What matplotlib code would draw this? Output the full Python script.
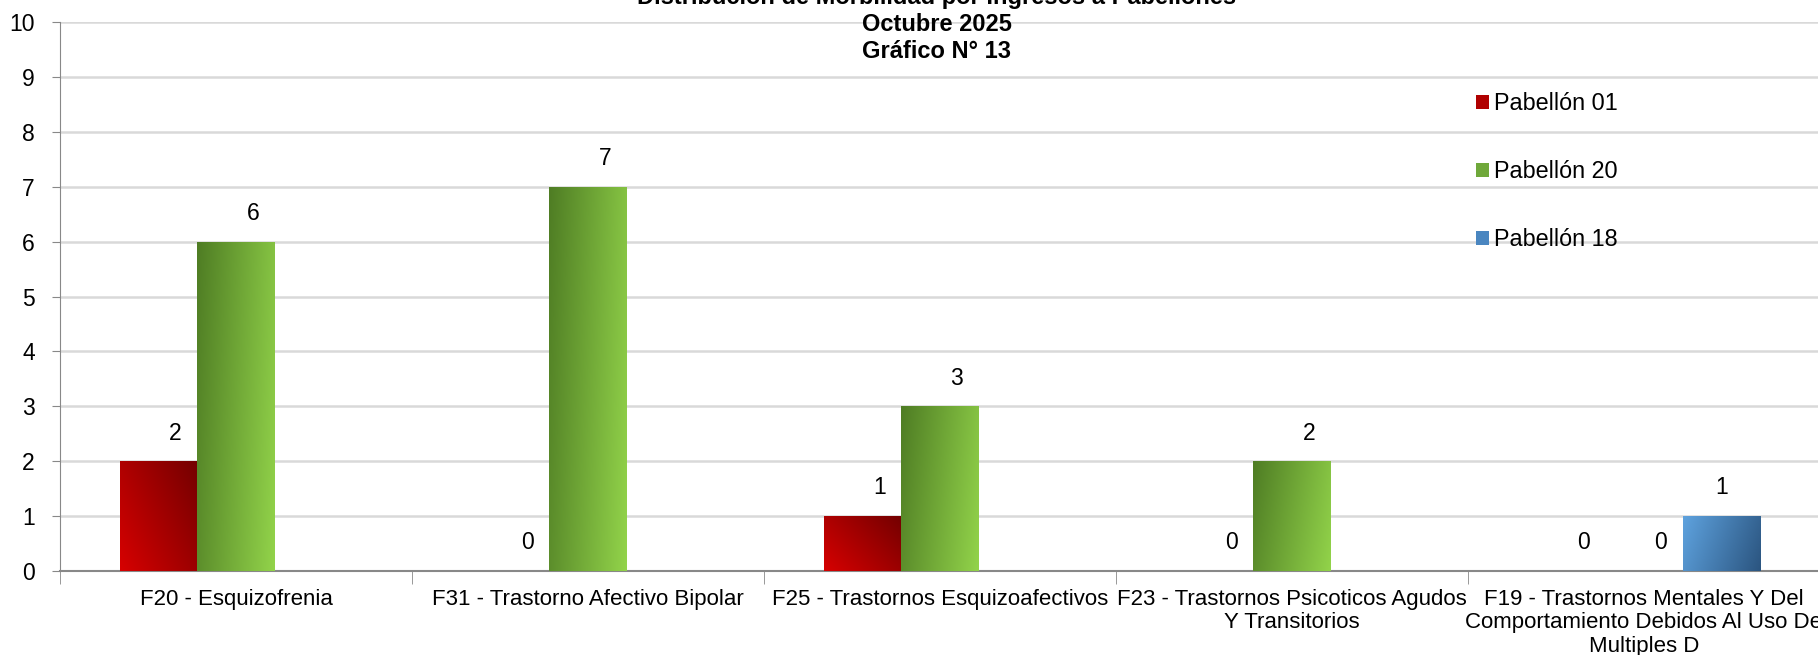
import numpy as np
import matplotlib
matplotlib.use("Agg")
import matplotlib.pyplot as plt
from matplotlib.colors import LinearSegmentedColormap
from matplotlib.patches import Patch

plt.rcParams['font.family'] = ['Liberation Sans', 'DejaVu Sans']

categorias = [
    "F20 - Esquizofrenia",
    "F31 - Trastorno Afectivo Bipolar",
    "F25 - Trastornos Esquizoafectivos",
    "F23 - Trastornos Psicoticos Agudos\nY Transitorios",
    "F19 - Trastornos Mentales Y Del\nComportamiento Debidos Al Uso De\nMultiples D",
]
series = ["Pabellón 01", "Pabellón 20", "Pabellón 18"]
pab01 = [2, 0, 1, 0, 0]
pab20 = [6, 7, 3, 2, 0]
pab18 = [None, None, None, None, 1]

titulo = "Distribución de Morbilidad por Ingresos a Pabellones\nOctubre 2025\nGráfico N° 13"

# gradient colours (start -> end)
grad_red = LinearSegmentedColormap.from_list("r", ["#d60000", "#740000"])
grad_green = LinearSegmentedColormap.from_list("g", ["#4f7d24", "#92d34a"])
grad_blue = LinearSegmentedColormap.from_list("b", ["#5ea2de", "#2b5580"])

fig = plt.figure(figsize=(18.18, 6.55), dpi=100)
ax = fig.add_axes([0.033, 0.1287, 0.968, 0.837])

x = np.arange(len(categorias))
w = 0.22

def gradient_bars(xpos, vals, cmap, mode, dx_label):
    vv = [0 if v is None else v for v in vals]
    bars = ax.bar(xpos, vv, w, color='none', zorder=3)
    n = 60
    gx, gy = np.meshgrid(np.linspace(0, 1, n), np.linspace(0, 1, n))
    if mode == "red":
        t = 0.6 * gx + 0.4 * gy
    else:
        t = 0.8 * gx + 0.2 * (1 - gy)
    for b, v in zip(bars, vals):
        if v is None:
            continue
        if b.get_height() > 0:
            ax.imshow(t, extent=[b.get_x(), b.get_x() + b.get_width(), 0, b.get_height()],
                      origin='lower', aspect='auto', cmap=cmap, zorder=3, interpolation='bilinear')
        ax.annotate(str(v), (b.get_x() + b.get_width() / 2, b.get_height()),
                    xytext=(dx_label, 28), textcoords='offset pixels',
                    ha='center', va='center', fontsize=16.5, color='black', zorder=5)

gradient_bars(x - w, pab01, grad_red, "red", 17)
gradient_bars(x, pab20, grad_green, "green", 17)
gradient_bars(x + w, pab18, grad_blue, "blue", 0)

ax.set_xlim(-0.5, len(categorias) - 0.5)
ax.set_ylim(0, 10)
ax.set_yticks(range(0, 11))
ax.tick_params(axis='y', labelsize=16.5, length=6, color='#888888', pad=12)
ax.set_xticks(x)
ax.set_xticklabels(categorias, fontsize=16, linespacing=1.15)
ax.tick_params(axis='x', which='major', length=0, pad=13)
ax.set_xticks(np.arange(-0.5, len(categorias)), minor=True)
ax.tick_params(axis='x', which='minor', length=9, color='#888888')

ax.grid(axis='y', color='#d9d9d9', linewidth=1.8, zorder=0)
ax.set_axisbelow(True)
for s in ['top', 'right']:
    ax.spines[s].set_visible(False)
ax.spines['left'].set_color('#888888')
ax.spines['bottom'].set_color('#888888')
ax.spines['bottom'].set_linewidth(1.5)

fig.text(0.5154, 0.962, titulo, ha='center', va='center', fontsize=17,
         fontweight='bold', linespacing=1.22)

handles = [Patch(facecolor="#b00000"), Patch(facecolor="#6fa83a"), Patch(facecolor="#4a86c0")]
fig.legend(handles, series, loc='upper left', bbox_to_anchor=(0.812, 0.859),
           frameon=False, fontsize=16.8, handlelength=0.55, handleheight=0.55,
           handletextpad=0.2, labelspacing=1.93, borderpad=0, borderaxespad=0)

fig.savefig("out.png", dpi=100)
